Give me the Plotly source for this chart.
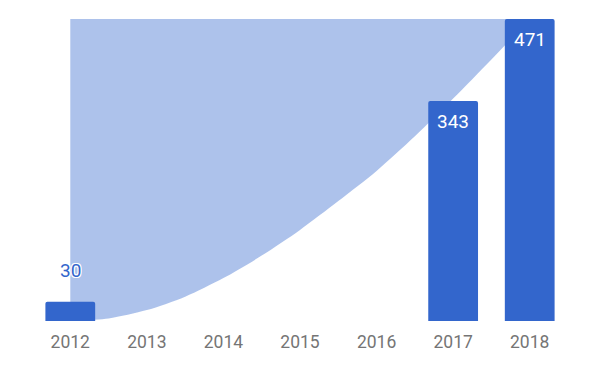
import plotly.graph_objects as go

# Data
years = [2012, 2013, 2014, 2015, 2016, 2017, 2018]
tick_labels = ["2012", "2013", "2014", "2015", "2016", "2017", "2018"]
bar_years = [2012, 2017, 2018]
bar_values = [30, 343, 471]
curve_years = [2012, 2012.5, 2013, 2013.5, 2014, 2014.5, 2015, 2015.5,
               2016, 2016.5, 2017, 2017.5, 2018]
curve_values = [0, 4, 17, 38, 67, 102, 142, 187, 234, 288, 347, 408, 471]
area_top = [471, 471]
area_top_years = [2012, 2018]

BLUE = "#3366CC"
AREA = "rgba(51,102,204,0.4)"
FONT = "Roboto"

fig = go.Figure()

# Area (between top line and curve), on the base axes so bars overlay it
fig.add_trace(go.Scatter(
    x=area_top_years, y=area_top, mode="lines",
    line=dict(width=0, color=AREA), hoverinfo="skip", showlegend=False,
    xaxis="x", yaxis="y",
))
fig.add_trace(go.Scatter(
    x=curve_years, y=curve_values, mode="lines",
    line=dict(width=0, color=AREA, shape="spline", smoothing=0.8),
    fill="tonexty", fillcolor=AREA, hoverinfo="skip", showlegend=False,
    xaxis="x", yaxis="y",
))

# Bars on an overlaying axis pair (drawn above the area)
fig.add_trace(go.Bar(
    x=bar_years, y=bar_values, width=0.65,
    marker=dict(color=BLUE, cornerradius=2, line=dict(width=0)),
    showlegend=False, xaxis="x2", yaxis="y2",
))

# Value labels
for xv, yv in zip(bar_years, bar_values):
    inside = yv > 100
    fig.add_annotation(
        x=xv, y=yv, xref="x2", yref="y2", text=str(yv), showarrow=False,
        yshift=-20 if inside else 31,
        font=dict(family=FONT, size=19, color="white" if inside else BLUE,
                  shadow="none" if inside else
                  "-1px -1px 0 #fff, 1px -1px 0 #fff, -1px 1px 0 #fff, 1px 1px 0 #fff"),
    )

xr = [2011.5, 2018.5]
yr = [0, 471]
fig.update_layout(
    width=600, height=371,
    margin=dict(l=32, r=32, t=19, b=50),
    paper_bgcolor="white", plot_bgcolor="rgba(0,0,0,0)",
    font=dict(family=FONT),
    xaxis=dict(range=xr, tickvals=years, ticktext=tick_labels, showgrid=False,
               zeroline=False, showline=False, ticks="", ticklabelstandoff=8,
               tickfont=dict(family=FONT, size=17.5, color="#757575"), fixedrange=True),
    yaxis=dict(range=yr, visible=False, showgrid=False, zeroline=False, fixedrange=True),
    xaxis2=dict(range=xr, overlaying="x", visible=False, showgrid=False, zeroline=False),
    yaxis2=dict(range=yr, overlaying="y", visible=False, showgrid=False, zeroline=False),
)

fig.write_html("out.html")
